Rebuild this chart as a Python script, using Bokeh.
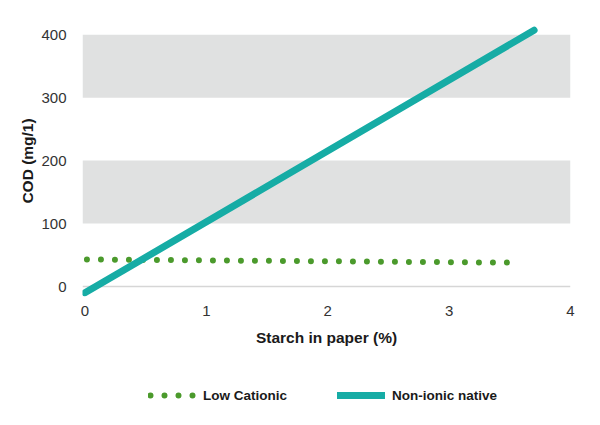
from bokeh.plotting import figure
from bokeh.layouts import column
from bokeh.models import (Range1d, FixedTicker, BoxAnnotation, Span, Legend, LegendItem)
from bokeh.embed import file_html
from bokeh.resources import INLINE

# Data
low_cationic_x = [0.0, 3.48]
low_cationic_y = [43, 38]
nonionic_x = [0.0, 3.7]
nonionic_y = [-10, 407]
x_ticks = [0, 1, 2, 3, 4]
y_ticks = [0, 100, 200, 300, 400]
band_bottoms = [100, 300]
band_tops = [200, 400]
series_names = ["Low Cationic", "Non-ionic native"]

TEAL = "#16aca5"
GREEN = "#4b9a2c"
FONT = "Liberation Sans"

dot_style = dict(line_color=GREEN, line_width=6, line_dash="0 14",
                 line_dash_offset=12, line_cap="round")
solid_style = dict(line_color=TEAL, line_width=7, line_cap="round")

p = figure(width=584, height=348, output_backend="svg", toolbar_location=None,
           x_range=Range1d(-0.02, 4.0), y_range=Range1d(-15.8, 414.6),
           min_border_top=25, min_border_left=82, min_border_right=14,
           min_border_bottom=51)
p.outline_line_color = None
p.background_fill_color = "white"
p.border_fill_color = "white"
p.xgrid.grid_line_color = None
p.ygrid.grid_line_color = None

for b, t in zip(band_bottoms, band_tops):
    p.add_layout(BoxAnnotation(bottom=b, top=t, fill_color="#e0e1e1", fill_alpha=1,
                               line_color=None, level="underlay"))
p.add_layout(Span(location=0, dimension="width", line_color="#d6d6d6",
                  line_width=1.5, level="underlay"))

p.line(low_cationic_x, low_cationic_y, **dot_style)
p.line(nonionic_x, nonionic_y, **solid_style)

for ax in (p.xaxis[0], p.yaxis[0]):
    ax.axis_line_color = None
    ax.major_tick_line_color = None
    ax.minor_tick_line_color = None
    ax.major_label_text_font = FONT
    ax.major_label_text_font_size = "15px"
    ax.major_label_text_color = "#333333"
    ax.axis_label_text_font = FONT
    ax.axis_label_text_font_style = "bold"
    ax.axis_label_text_font_size = "15.5px"
    ax.axis_label_text_color = "#1a1a1a"

p.xaxis.ticker = FixedTicker(ticks=x_ticks)
p.yaxis.ticker = FixedTicker(ticks=y_ticks)
p.xaxis.axis_label = "Starch in paper (%)"
p.yaxis.axis_label = "COD (mg/1)"
p.xaxis.major_label_standoff = 3
p.xaxis.axis_label_standoff = 10
p.yaxis.major_label_standoff = 10
p.yaxis.axis_label_standoff = 2

# Legend strip below the chart (its lines lie outside its ranges)
lg = figure(width=584, height=61, output_backend="svg", toolbar_location=None,
            x_range=Range1d(10, 11), y_range=Range1d(1000, 1001),
            x_axis_type=None, y_axis_type=None, min_border=0)
lg.outline_line_color = None
lr1 = lg.line(low_cationic_x, low_cationic_y, **dot_style)
lr2 = lg.line(nonionic_x, nonionic_y, **solid_style)

legend = Legend(items=[LegendItem(label=series_names[0], renderers=[lr1]),
                       LegendItem(label=series_names[1], renderers=[lr2])],
                orientation="horizontal", location=(66, 6),
                glyph_width=48, glyph_height=16, label_height=16,
                label_standoff=7, spacing=50, padding=0, margin=0,
                border_line_color=None, background_fill_alpha=0,
                label_text_font=FONT, label_text_font_style="bold",
                label_text_font_size="13.5px", label_text_color="#1a1a1a")
lg.add_layout(legend, "center")

layout = column(p, lg, spacing=0)
open("out.html", "w").write(file_html(layout, INLINE))
